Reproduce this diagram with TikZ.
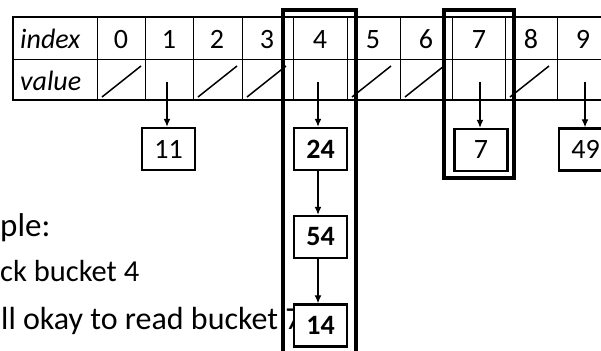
\documentclass[tikz,border=0pt]{standalone}
\usepackage{fontspec}
\setmainfont{Carlito}
\usetikzlibrary{arrows.meta}
\begin{document}
\begin{tikzpicture}[x=1pt,y=-1pt,
  cell/.style={font=\fontsize{28}{33}\selectfont, anchor=base, inner sep=0pt},
  entry/.style={draw, line width=2.5pt, fill=white, minimum width=53pt, minimum height=42pt,
                inner sep=0pt, font=\fontsize{28}{33}\selectfont},
  hot/.style={entry, font=\fontsize{28}{33}\selectfont\bfseries},
  ptr/.style={line width=1.2pt, -{Latex[length=8pt,width=7pt]}},
  tableline/.style={line width=1pt},
  lockbox/.style={line width=4pt},
  nil/.style={line width=1.5pt},
  say/.style={anchor=base west, inner sep=0pt}
]
\useasboundingbox (0,0) rectangle (601,350);
\clip (0,0) rectangle (601,350);

% hash table: index row and value row
\draw[tableline] (13,60) -- (610,60);
\foreach \x in {97,145,193,242,293,347,400,452,505,557}
  \draw[tableline] (\x,17) -- (\x,100);
\draw[line width=2pt] (13,17) rectangle (610,100);

\node[cell, anchor=base west, font=\fontsize{28}{33}\selectfont\itshape] (hidx) at (20,49) {index};
\node[cell, anchor=base west, font=\fontsize{28}{33}\selectfont\itshape] (hval) at (20,91) {value};
\foreach \i/\x in {0/121,1/169,2/217,3/267,4/320,5/373,6/426,7/479,8/531,9/583}
  \node[cell] (i\i) at (\x,49) {\i};

% empty buckets
\foreach \x in {97,193,242,347,400,505}
  \draw[nil] (\x+5,97) -- (\x+44,66);

% bucket pointers
\coordinate (v1) at (167,82);
\coordinate (v4) at (318,82);
\coordinate (v7) at (480,82);
\coordinate (v9) at (585,82);

% example text
\node[say, font=\fontsize{33}{39}\selectfont] (t1) at (0,236) {ple:};
\node[say, font=\fontsize{30.5}{36}\selectfont] (t2) at (0,281) {ck bucket 4};
\node[say, font=\fontsize{32}{38}\selectfont] (t3) at (1,329) {ll okay to read bucket 7};

% lock frames
\draw[lockbox] (283,360) -- (283,10) -- (356,10) -- (356,360);
\draw[lockbox] (444,10) rectangle (514,178);

% chained entries
\node[entry] (b11) at (168.5,149) {11};
\node[hot]   (b24) at (320.5,149) {24};
\node[hot]   (b54) at (320.5,237) {54};
\node[hot]   (b14) at (320.5,325.5) {14};
\node[entry] (b7)  at (481,150) {7};
\node[entry] (b49) at (585.5,149.5) {49};

\draw[ptr] (v1) -- (v1 |- b11.north);
\draw[ptr] (v4) -- (v4 |- b24.north);
\draw[ptr] (v7) -- (v7 |- b7.north);
\draw[ptr] (v9) -- (v9 |- b49.north);
\draw[ptr] (b24.south -| v4) -- (v4 |- b54.north);
\draw[ptr] (b54.south -| v4) -- (v4 |- b14.north);
\end{tikzpicture}
\end{document}
